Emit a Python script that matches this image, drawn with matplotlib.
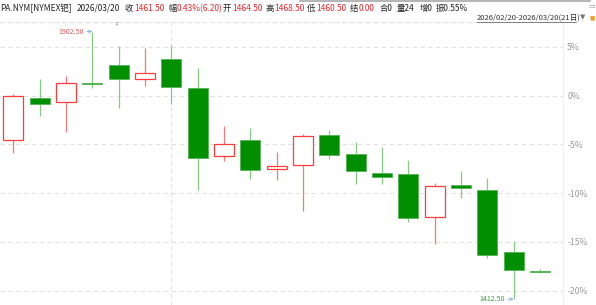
import matplotlib
matplotlib.use("Agg")
import matplotlib.pyplot as plt
from matplotlib.lines import Line2D

plt.rcParams['font.family'] = ['Noto Sans CJK SC', 'DejaVu Sans']

# ---- data ----
dates = ["02/20", "02/23", "02/24", "02/25", "02/26", "02/27", "03/02", "03/03", "03/04",
         "03/05", "03/06", "03/09", "03/10", "03/11", "03/12", "03/13", "03/16", "03/17",
         "03/18", "03/19", "03/20"]
opens = [1703.0, 1780.5, 1773.5, 1808.0, 1842.0, 1815.0, 1852.0, 1798.5, 1674.5, 1703.5,
         1650.0, 1658.0, 1713.5, 1677.5, 1644.0, 1642.0, 1563.5, 1621.5, 1612.0, 1498.5, 1464.5]
highs = [1788.0, 1815.0, 1820.5, 1902.5, 1876.5, 1873.0, 1878.5, 1835.5, 1729.0, 1726.0,
         1682.0, 1715.0, 1722.0, 1700.0, 1690.5, 1667.5, 1626.0, 1646.5, 1634.0, 1519.5, 1468.5]
lows = [1680.5, 1748.5, 1719.0, 1798.5, 1763.0, 1803.5, 1770.5, 1613.0, 1665.0, 1632.0,
        1631.0, 1573.5, 1669.5, 1624.0, 1624.0, 1554.5, 1513.0, 1598.5, 1487.5, 1412.5, 1460.5]
closes = [1785.0, 1770.5, 1808.0, 1806.0, 1815.0, 1826.0, 1800.5, 1671.0, 1696.0, 1648.5,
          1656.5, 1711.5, 1676.0, 1646.5, 1636.5, 1560.5, 1619.5, 1616.5, 1493.5, 1466.0, 1461.5]
base_price = 1785.0
pct_ticks = [5, 0, -5, -10, -15, -20]
pct_limits = [-21.47, 7.56]

header_items = [
    ("PA.NYM[NYMEX钯]", "#222222", 0),
    ("2026/03/20", "#222222", 77),
    ("收", "#222222", 125),
    ("1461.50", "#e8262a", 134),
    ("幅", "#222222", 168),
    ("0.43%(6.20)", "#e8262a", 177),
    ("开", "#222222", 223),
    ("1464.50", "#e8262a", 232),
    ("高", "#222222", 265),
    ("1468.50", "#e8262a", 274),
    ("低", "#222222", 307),
    ("1460.50", "#e8262a", 316),
    ("结", "#222222", 350),
    ("0.00", "#e8262a", 359),
    ("合0", "#222222", 380),
    ("量24", "#222222", 397),
    ("增0", "#222222", 420),
    ("振0.55%", "#222222", 436),
]
range_text = "2026/02/20-2026/03/20(21日)"

W, H = 596, 305
fig = plt.figure(figsize=(W / 100, H / 100), dpi=100)
ax = fig.add_axes([0, 0, 563 / W, (H - 22) / H])

up_edge = "#ff3c3c"
up_wick = "#f27a7a"
dn_face = "#008f00"
dn_edge = "#55b455"
dn_wick = "#86ca86"
grid_col = "#e2e2e2"
grid_ls = (0, (4, 3))

x = list(range(len(dates)))
for i in x:
    o, h, l, c = opens[i], highs[i], lows[i], closes[i]
    up = c >= o
    ax.vlines(i, l, h, color=up_wick if up else dn_wick, lw=0.9, zorder=2)
    lo, hi = min(o, c), max(o, c)
    if up:
        ax.bar(i, hi - lo, bottom=lo, width=0.76, facecolor="white",
               edgecolor=up_edge, lw=0.9, zorder=3)
    else:
        ax.bar(i, max(hi - lo, 1.0), bottom=lo, width=0.76, facecolor=dn_face,
               edgecolor=dn_edge, lw=0.6, zorder=3)

# y axis in percent of base price
ylo = base_price * (1 + pct_limits[0] / 100)
yhi = base_price * (1 + pct_limits[1] / 100)
ax.set_ylim(ylo, yhi)
ax.set_xlim(-0.51, 20.88)
ticks = [base_price * (1 + p / 100) for p in pct_ticks]
ax.set_yticks(ticks)
ax.set_yticklabels([f"{p}%" for p in pct_ticks])
ax.yaxis.tick_right()
ax.tick_params(axis="y", length=0, pad=3, labelsize=6.2, labelcolor="#9a9a9a")
ax.set_xticks([])
for t in ticks:
    ax.axhline(t, color=grid_col, lw=0.8, ls=grid_ls, zorder=0)
ax.axvline(dates.index("03/02"), color=grid_col, lw=0.8, ls=grid_ls, zorder=0)

for s in ["left", "bottom"]:
    ax.spines[s].set_visible(False)
ax.spines["right"].set_color("#eeeeee")
ax.spines["right"].set_linewidth(0.8)
ax.spines["top"].set_color(grid_col)
ax.spines["top"].set_linestyle(grid_ls)
ax.spines["top"].set_linewidth(0.8)

# high / low annotations
ih = highs.index(max(highs))
il = lows.index(min(lows))
ax.annotate(f"{max(highs):.2f}", xy=(ih, max(highs)), xytext=(-24.5, 0), textcoords="offset points",
            fontsize=5.1, color="#e05a5a", va="center", ha="left",
            arrowprops=dict(arrowstyle="->", color="#7fb3d5", lw=0.6, shrinkA=0, shrinkB=0))
ax.annotate(f"{min(lows):.2f}", xy=(il, min(lows)), xytext=(-24.5, 0), textcoords="offset points",
            fontsize=5.1, color="#3d9a3d", va="center", ha="left",
            arrowprops=dict(arrowstyle="->", color="#7fb3d5", lw=0.6, shrinkA=0, shrinkB=0))

# header
for txt, col, px in header_items:
    fig.text(px / W, 1 - 8.5 / H, txt, fontsize=6, color=col, va="center", ha="left")
fig.text(477 / W, 1 - 17.5 / H, range_text, fontsize=5.5, color="#333333", va="center", ha="left")
fig.add_artist(Line2D([477 / W, 576 / W], [1 - 21.5 / H, 1 - 21.5 / H], color="#555555", lw=0.5))
fig.text(580 / W, 1 - 17.5 / H, "▼", fontsize=5, color="#777777", va="center", ha="left",
         family=["DejaVu Sans"])
fig.text(589 / W, 1 - 18 / H, "■", fontsize=4, color="#f0a020", va="center", ha="left",
         family=["DejaVu Sans"])
fig.text(588 / W, 1 - 5 / H, "▭", fontsize=5, color="#999999", va="center", ha="left",
         family=["DejaVu Sans"])
fig.text(117 / W, 1 - 25 / H, "F", fontsize=3.5, color="#666666", va="center", ha="center")
fig.add_artist(Line2D([300 / W, 590 / W], [1 - 0.7 / H, 1 - 0.7 / H], color="#a8a8a8", lw=1.2))

fig.savefig("out.png", dpi=100)
